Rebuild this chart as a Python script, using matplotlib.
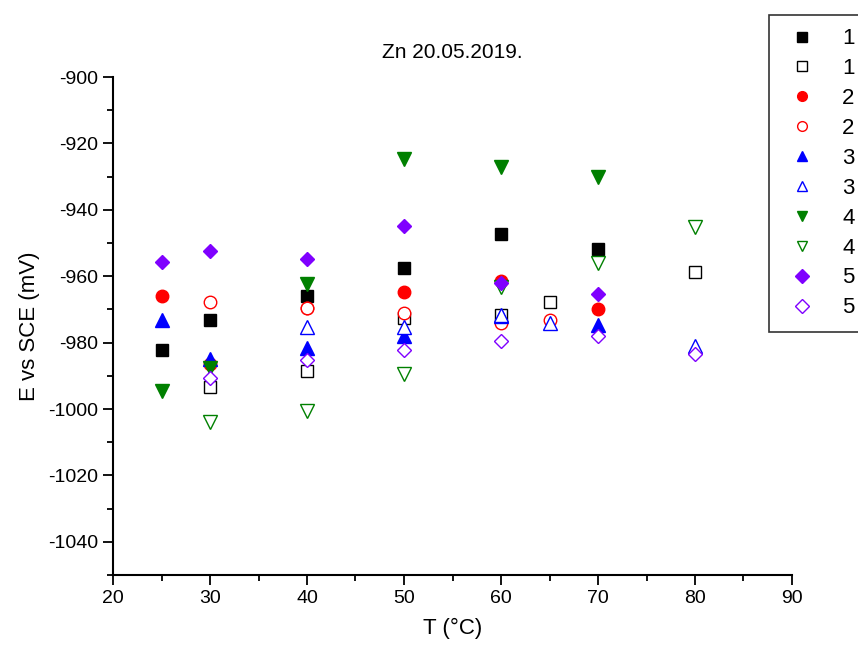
import matplotlib.pyplot as plt
from matplotlib.ticker import MultipleLocator

plt.rcParams['font.family'] = ['Liberation Sans', 'DejaVu Sans']
plt.rcParams['axes.unicode_minus'] = False

# filled = first measurement set, open = second set
t_filled = [25, 30, 40, 50, 60, 70]
e1_filled = [-982.3, -973.3, -966.0, -957.6, -947.4, -951.8]
e2_filled = [-966.0, -986.5, -969.5, -964.7, -961.5, -970.0]
e3_filled = [-973.1, -984.8, -981.7, -977.9, -972.0, -974.7]
e4_filled = [-994.5, -987.8, -962.4, -924.8, -927.0, -930.0]
e5_filled = [-955.8, -952.5, -954.9, -944.8, -962.1, -965.4]

t1_open = [30, 40, 50, 60, 65, 80]
e1_open = [-993.5, -988.6, -972.7, -971.7, -967.8, -958.6]
t2_open = [30, 40, 50, 60, 65]
e2_open = [-967.9, -969.5, -971.1, -974.2, -973.2]
t3_open = [40, 50, 60, 65, 80]
e3_open = [-975.2, -975.4, -971.7, -974.2, -981.0]
t4_open = [30, 40, 50, 60, 70, 80]
e4_open = [-1004.0, -1000.6, -989.4, -963.2, -956.1, -945.3]
t5_open = [30, 40, 50, 60, 70, 80]
e5_open = [-990.6, -985.3, -982.3, -979.4, -977.9, -983.5]

labels = ['1', '2', '3', '4', '5']
colors = ['black', '#ff0000', '#0000ff', '#008000', '#7f00ff']
markers = ['s', 'o', '^', 'v', 'D']
filled = [e1_filled, e2_filled, e3_filled, e4_filled, e5_filled]
opens = [(t1_open, e1_open), (t2_open, e2_open), (t3_open, e3_open),
         (t4_open, e4_open), (t5_open, e5_open)]
sizes = [8, 9, 9.5, 9.5, 7.5]

fig = plt.figure(figsize=(8.58, 6.5), dpi=100)
ax = fig.add_axes([113/858, 1-575/650, 679/858, 498/650])

for i in range(5):
    ax.plot(t_filled, filled[i], ls='none', marker=markers[i], ms=sizes[i],
            color=colors[i], mec=colors[i], label=labels[i])
    ax.plot(opens[i][0], opens[i][1], ls='none', marker=markers[i], ms=sizes[i],
            mfc='white', mec=colors[i], mew=1.0, label=labels[i])

ax.set_xlim(20, 90)
ax.set_ylim(-1050, -900)
ax.xaxis.set_major_locator(MultipleLocator(10))
ax.xaxis.set_minor_locator(MultipleLocator(5))
ax.yaxis.set_major_locator(MultipleLocator(20))
ax.yaxis.set_minor_locator(MultipleLocator(10))
ax.set_yticks([-1040, -1020, -1000, -980, -960, -940, -920, -900])
ax.spines['top'].set_visible(False)
ax.spines['right'].set_visible(False)
ax.spines['left'].set_linewidth(1.5)
ax.spines['bottom'].set_linewidth(1.5)
ax.tick_params(which='major', direction='out', length=7, width=1.3, labelsize=14)
ax.tick_params(which='minor', direction='out', length=4, width=1.3)

ax.set_xlabel('T (°C)', fontsize=16, labelpad=8)
ax.set_ylabel('E vs SCE (mV)', fontsize=16, labelpad=6)
ax.set_title('Zn 20.05.2019.', fontsize=15, pad=14)

leg = ax.legend(loc='upper left', bbox_to_anchor=(769/858, 1-15/650),
                bbox_transform=fig.transFigure, fontsize=16, frameon=True,
                fancybox=False, edgecolor='black', handletextpad=0.9,
                labelspacing=0.4, borderpad=0.6, handlelength=1.8,
                borderaxespad=0)
leg.get_frame().set_linewidth(1.2)
for h in leg.legend_handles:
    h.set_markersize(7)

fig.savefig('out.png', dpi=100)
